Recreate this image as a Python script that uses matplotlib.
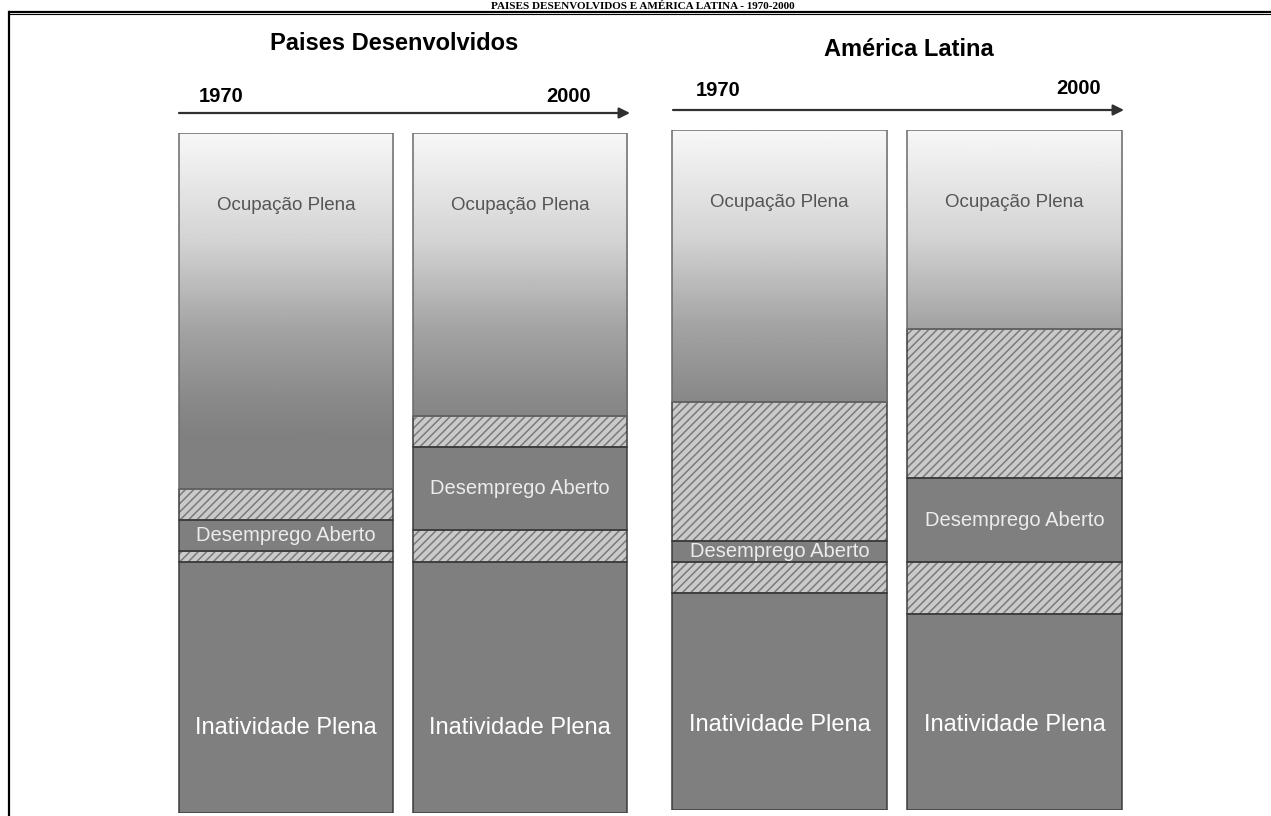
import numpy as np
import matplotlib
matplotlib.use('Agg')
import matplotlib.pyplot as plt

# participação (%) de cada condição na população, de baixo para cima
grupos = ['Paises Desenvolvidos', 'América Latina']
anos = ['1970', '2000']
inatividade = [[36.9, 36.9], [31.9, 28.8]]
zona_inf = [[1.6, 4.7], [4.6, 7.6]]
desemprego = [[4.6, 12.2], [3.1, 12.4]]
zona_sup = [[4.6, 4.6], [20.4, 21.9]]
ocupacao = [[52.3, 41.6], [40.0, 29.3]]

titulo = 'PAISES DESENVOLVIDOS E AMÉRICA LATINA - 1970-2000'

plt.rcParams['hatch.linewidth'] = 1.1
SANS = ['Liberation Sans', 'DejaVu Sans']
NARROW = ['Liberation Sans Narrow', 'Liberation Sans', 'DejaVu Sans']

W, H = 1271, 816
fig = plt.figure(figsize=(W / 100, H / 100), dpi=100)

# camada de fundo em pixels: moldura, título, cabeçalhos e setas
ov = fig.add_axes([0, 0, 1, 1])
ov.set_xlim(0, W)
ov.set_ylim(H, 0)
ov.axis('off')
ov.plot([8, W], [11.5, 11.5], color='black', lw=1.6, solid_capstyle='butt')
ov.plot([8, W], [14, 14], color='black', lw=0.8, solid_capstyle='butt')
ov.plot([8.5, 8.5], [11.5, H], color='black', lw=1.6)
ov.text(643, 9, titulo, ha='center', va='baseline', fontsize=8,
        fontweight='bold', family=['Liberation Serif', 'DejaVu Serif'])

# posição de cada painel em pixels: (esquerda, largura, topo, base)
paineis = [(169, 468, 133, 813), (662, 470, 130, 810)]
cabecalhos = [(394, 44), (909, 50)]
rot_anos = [((221, 97), (569, 96), 113, 179, 630),
            ((718, 90), (1079, 89), 110, 673, 1124)]

grad_y = [0, 55.0, 61.0, 71.2, 84.3, 100]
grad_c = [0.50, 0.50, 0.54, 0.64, 0.83, 0.97]

for g, nome in enumerate(grupos):
    x0, w, top, bot = paineis[g]
    ax = fig.add_axes([x0 / W, (H - bot) / H, w / W, (bot - top) / H])
    ax.axis('off')

    hx, hy = cabecalhos[g]
    ov.text(hx, hy, nome, ha='center', va='center', fontsize=17,
            fontweight='bold', family=SANS)
    (ax1, ay1), (ax2, ay2), ya, xa0, xa1 = rot_anos[g]
    ov.text(ax1, ay1, anos[0], ha='center', va='center', fontsize=14.5,
            fontweight='bold', family=SANS)
    ov.text(ax2, ay2, anos[1], ha='center', va='center', fontsize=14.5,
            fontweight='bold', family=SANS)
    ov.annotate('', xy=(xa1, ya), xytext=(xa0, ya),
                arrowprops=dict(arrowstyle='-|>', color='#303030', lw=1.6,
                                mutation_scale=16, shrinkA=0, shrinkB=0))

    x = np.arange(len(anos))
    largura = 0.915
    ina = np.array(inatividade[g])
    zi = np.array(zona_inf[g])
    de = np.array(desemprego[g])
    zs = np.array(zona_sup[g])
    oc = np.array(ocupacao[g])
    b1 = ina
    b2 = b1 + zi
    b3 = b2 + de
    b4 = b3 + zs

    ax.bar(x, ina, largura, color='#7f7f7f', lw=0)
    ax.bar(x, zi, largura, bottom=b1, color='#cacaca', hatch='////',
           edgecolor='#7a7a7a', lw=0)
    ax.bar(x, de, largura, bottom=b2, color='#7f7f7f', lw=0)
    ax.bar(x, zs, largura, bottom=b3, color='#cacaca', hatch='////',
           edgecolor='#7a7a7a', lw=0)
    topo = ax.bar(x, oc, largura, bottom=b4, color='none', lw=0)

    yy = np.linspace(0, 100, 400)
    gg = np.interp(yy, grad_y, grad_c).reshape(-1, 1)
    for i, p in enumerate(topo):
        im = ax.imshow(gg, cmap='gray', vmin=0, vmax=1, origin='lower',
                       extent=[x[i] - largura / 2, x[i] + largura / 2, 0, 100],
                       aspect='auto', interpolation='bilinear', zorder=1)
        im.set_clip_path(p)

    # contornos dos segmentos
    for base, alt in [(0, ina), (b1, zi), (b2, de), (b3, zs)]:
        ax.bar(x, alt, largura, bottom=base, fill=False,
               edgecolor='#3c3c3c', lw=1.1, zorder=3)
    ax.bar(x, oc, largura, bottom=b4, fill=False,
           edgecolor='#6a6a6a', lw=1.1, zorder=3)

    for i in x:
        ax.text(i, 89.3, 'Ocupação Plena', ha='center', va='center',
                fontsize=13.5, color='#555555', family=SANS, zorder=4)
        ax.text(i, b2[i] + de[i] / 2, 'Desemprego Aberto', ha='center',
                va='center', fontsize=14.5, color='#ececec', family=SANS,
                zorder=4)
        ax.text(i, 12.5, 'Inatividade Plena', ha='center', va='center',
                fontsize=17, color='white', family=NARROW, zorder=4)

    ax.set_xlim(-0.5, 1.5)
    ax.set_ylim(0, 100)

fig.savefig('out.png', dpi=100)
